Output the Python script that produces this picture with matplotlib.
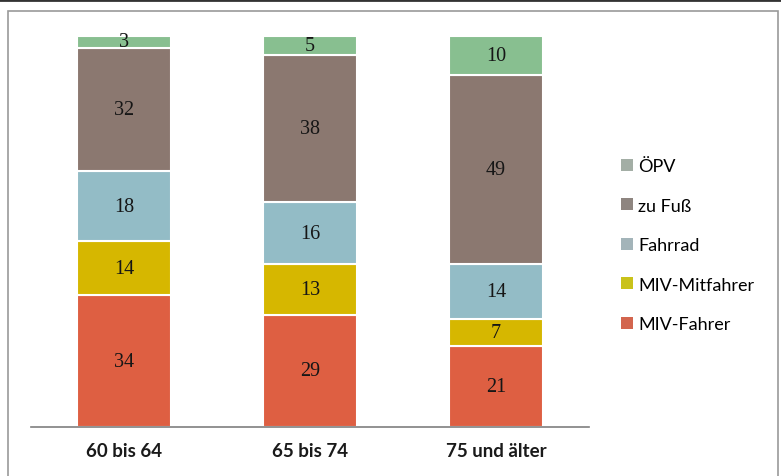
import matplotlib

matplotlib.use("Agg")
import matplotlib.pyplot as plt
import numpy as np
from matplotlib.lines import Line2D
from matplotlib.patches import Patch, Rectangle

plt.rcParams["font.family"] = ["Lato", "DejaVu Sans"]

CATEGORIES = ["60 bis 64", "65 bis 74", "75 und älter"]
SERIES = ["MIV-Fahrer", "MIV-Mitfahrer", "Fahrrad", "zu Fuß", "ÖPV"]
MIV_FAHRER = [34, 29, 21]
MIV_MITFAHRER = [14, 13, 7]
FAHRRAD = [18, 16, 14]
ZU_FUSS = [32, 38, 49]
OEPV = [3, 5, 10]

COLORS = ["#de5f42", "#d6b700", "#93bcc6", "#8b7870", "#88bf90"]
LEGEND_COLORS = ["#d3654e", "#c9c21a", "#a3b4b9", "#8e8580", "#a3aea5"]

fig = plt.figure(figsize=(7.81, 4.77), dpi=100)

# outer frame
fig.add_artist(Line2D([0, 1], [0.997, 0.997], color="#333333", lw=2,
                      transform=fig.transFigure))
fig.add_artist(Rectangle((8 / 781, -0.05), 770 / 781, 1.05 - 12 / 477,
                         fc="none", ec="#9a9a9a", lw=1.2,
                         transform=fig.transFigure))

ax = fig.add_axes([31 / 781, 49 / 477, 558 / 781, 391 / 477])
ax.set_xlim(-0.5, 2.5)
ax.set_ylim(0, 101)

x = np.arange(len(CATEGORIES))
bottom = np.zeros(len(CATEGORIES))
for values, color in zip([MIV_FAHRER, MIV_MITFAHRER, FAHRRAD, ZU_FUSS, OEPV], COLORS):
    values = np.array(values, dtype=float)
    ax.bar(x, values, width=0.505, bottom=bottom, color=color,
           edgecolor="white", linewidth=1.5, zorder=2)
    for xi, b, v in zip(x, bottom, values):
        ax.text(xi, b + v / 2, f"{v:.0f}", ha="center", va="center",
                family="Liberation Serif", size=14.5, color="#161616", zorder=3)
    bottom += values

for side in ["top", "right", "left"]:
    ax.spines[side].set_visible(False)
ax.spines["bottom"].set_color("#7f7f7f")
ax.spines["bottom"].set_linewidth(1.2)
ax.set_yticks([])
ax.set_xticks(x)
ax.set_xticklabels(CATEGORIES, fontsize=13.5, fontweight="bold", color="#1a1a1a")
ax.tick_params(axis="x", length=0, pad=11)
ax.patch.set_alpha(0)

handles = [Patch(fc=c, ec="none") for c in LEGEND_COLORS]
fig.legend(handles[::-1], SERIES[::-1], loc="upper left",
           bbox_to_anchor=(605 / 781, 1 - 143 / 477), frameon=False,
           fontsize=13, labelspacing=1.3, handlelength=0.65, handleheight=0.65,
           handletextpad=0.3)

fig.savefig("out.png", dpi=100)
